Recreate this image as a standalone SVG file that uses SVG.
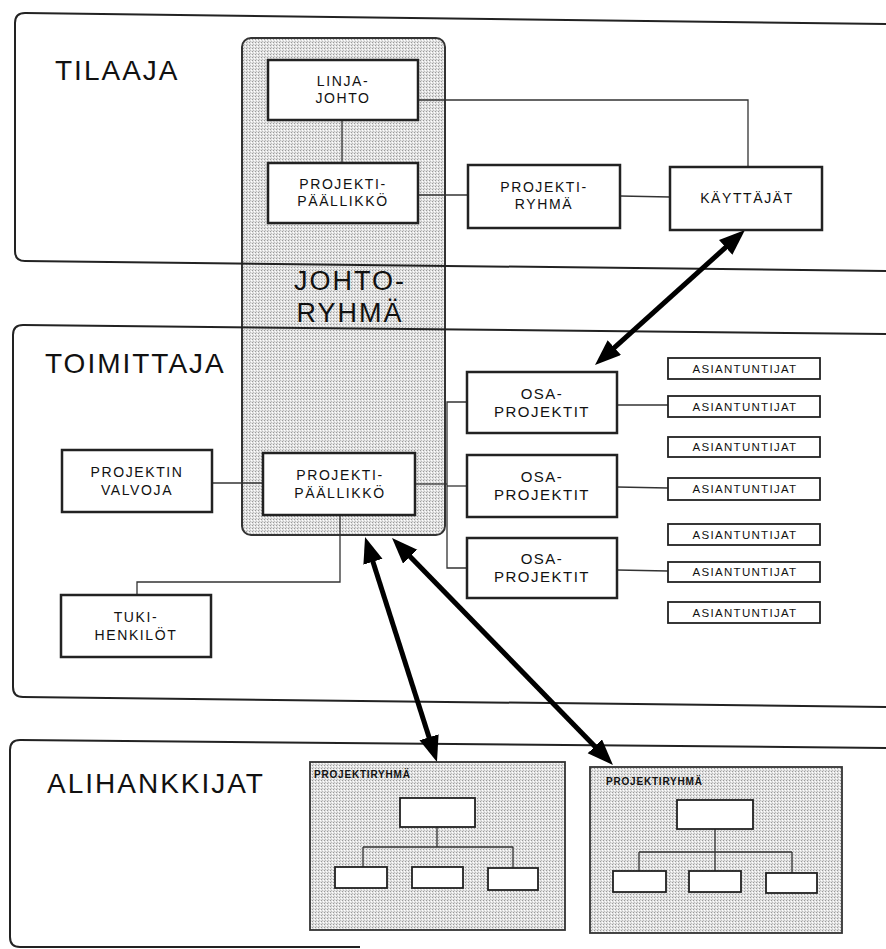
<svg xmlns="http://www.w3.org/2000/svg" width="886" height="949" viewBox="0 0 886 949">
<defs>
  <pattern id="stipple" width="3" height="3" patternUnits="userSpaceOnUse">
    <rect width="3" height="3" fill="#e2e2e2"/>
    <rect x="0" y="0" width="1" height="1" fill="#9a9a9a"/>
    <rect x="2" y="1" width="1" height="1" fill="#ffffff"/>
    <rect x="1" y="2" width="1" height="1" fill="#bdbdbd"/>
  </pattern>
  <marker id="head" markerUnits="userSpaceOnUse" markerWidth="28" markerHeight="22" refX="10" refY="10" orient="auto-start-reverse">
    <path d="M0,0 L26,10 L0,20 z" fill="#000"/>
  </marker>
  <style>
    .panel{fill:none;stroke:#222;stroke-width:2}
    .box{fill:#fff;stroke:#222;stroke-width:2.5}
    .sbox{fill:#fff;stroke:#222;stroke-width:1.8}
    .line{fill:none;stroke:#333;stroke-width:1.3}
    .arrow{fill:none;stroke:#000;stroke-width:5;marker-start:url(#head);marker-end:url(#head)}
    text{font-family:"Liberation Sans",Arial,sans-serif;fill:#111}
    .big{font-size:28px;letter-spacing:2px}
    .lbl{font-size:14px;letter-spacing:1.6px;text-anchor:middle}
    .osa{font-size:15px;letter-spacing:1.5px;text-anchor:middle}
    .asi{font-size:11.5px;letter-spacing:1.3px;text-anchor:middle}
    .pr{font-size:10px;font-weight:bold;letter-spacing:0.8px}
  </style>
</defs>

<!-- JOHTORYHMÄ shaded area -->
<g id="johtoryhma">
  <rect x="242" y="38" width="203" height="497" rx="9" fill="url(#stipple)" stroke="#333" stroke-width="2"/>
  <text x="350" y="290" font-size="27" letter-spacing="2" text-anchor="middle">JOHTO-</text>
  <text x="350" y="322" font-size="27" letter-spacing="2" text-anchor="middle">RYHMÄ</text>
</g>

<!-- Panels -->
<g id="tilaaja">
  <path class="panel" d="M886,24 L25,13 Q15,13 15,23 L15,251 Q15,261 25,261 L886,271"/>
  <text class="big" x="55" y="80">TILAAJA</text>
</g>
<g id="toimittaja">
  <path class="panel" d="M886,334 L23,325 Q13,325 13,335 L13,687 Q13,697 23,697 L886,707"/>
  <text class="big" x="45" y="373">TOIMITTAJA</text>
</g>
<g id="alihankkijat">
  <path class="panel" d="M886,748 L20,740 Q10,740 10,750 L10,937 Q10,947 20,947 L360,947"/>
  <text class="big" x="47" y="793">ALIHANKKIJAT</text>
</g>

<!-- Connectors -->
<g id="connectors">
  <path class="line" d="M342,120 L342,163"/>
  <path class="line" d="M418,100 L748,100 L748,167"/>
  <path class="line" d="M418,195 L468,195"/>
  <path class="line" d="M620,196 L670,197"/>
  <path class="line" d="M212,483 L263,483"/>
  <path class="line" d="M340,515 L340,582 L137,582 L137,595"/>
  <path class="line" d="M415,484 L447,484"/>
  <path class="line" d="M467,402 L447,402 L447,568 L467,568"/>
  <path class="line" d="M447,486 L467,486"/>
  <path class="line" d="M617,405 L668,405"/>
  <path class="line" d="M617,487 L668,488"/>
  <path class="line" d="M617,570 L668,571"/>
  <path class="arrow" d="M733.1,240.7 L606.9,354.3"/>
  <path class="arrow" d="M369.9,552.2 L432.1,746.8"/>
  <path class="arrow" d="M403.2,549.5 L601.8,753.5"/>
</g>

<!-- Nodes -->
<g id="linjajohto">
  <rect class="box" x="268" y="60" width="150" height="60"/>
  <text class="lbl" x="343" y="86">LINJA-</text>
  <text class="lbl" x="343" y="103">JOHTO</text>
</g>
<g id="pp-tilaaja">
  <rect class="box" x="268" y="163" width="150" height="60"/>
  <text class="lbl" x="343" y="189">PROJEKTI-</text>
  <text class="lbl" x="343" y="206">PÄÄLLIKKÖ</text>
</g>
<g id="projektiryhma">
  <rect class="box" x="468" y="165" width="152" height="63"/>
  <text class="lbl" x="544" y="192">PROJEKTI-</text>
  <text class="lbl" x="544" y="209">RYHMÄ</text>
</g>
<g id="kayttajat">
  <rect class="box" x="670" y="167" width="152" height="63"/>
  <text class="lbl" x="747" y="203">KÄYTTÄJÄT</text>
</g>
<g id="valvoja">
  <rect class="box" x="62" y="450" width="150" height="62"/>
  <text class="lbl" x="137" y="477">PROJEKTIN</text>
  <text class="lbl" x="137" y="495">VALVOJA</text>
</g>
<g id="pp-toimittaja">
  <rect class="box" x="263" y="453" width="152" height="62"/>
  <text class="lbl" x="340" y="480">PROJEKTI-</text>
  <text class="lbl" x="340" y="498">PÄÄLLIKKÖ</text>
</g>
<g id="tukihenkilot">
  <rect class="box" x="61" y="595" width="150" height="62"/>
  <text class="lbl" x="136" y="622">TUKI-</text>
  <text class="lbl" x="136" y="640">HENKILÖT</text>
</g>
<g id="osa1">
  <rect class="box" x="467" y="372" width="150" height="61"/>
  <text class="osa" x="542" y="399">OSA-</text>
  <text class="osa" x="542" y="417">PROJEKTIT</text>
</g>
<g id="osa2">
  <rect class="box" x="467" y="455" width="150" height="62"/>
  <text class="osa" x="542" y="482">OSA-</text>
  <text class="osa" x="542" y="500">PROJEKTIT</text>
</g>
<g id="osa3">
  <rect class="box" x="467" y="538" width="150" height="60"/>
  <text class="osa" x="542" y="564">OSA-</text>
  <text class="osa" x="542" y="582">PROJEKTIT</text>
</g>
<g id="asi1"><rect class="sbox" x="668" y="358" width="152" height="21"/><text class="asi" x="745" y="373">ASIANTUNTIJAT</text></g>
<g id="asi2"><rect class="sbox" x="668" y="396" width="152" height="21"/><text class="asi" x="745" y="411">ASIANTUNTIJAT</text></g>
<g id="asi3"><rect class="sbox" x="668" y="437" width="152" height="20"/><text class="asi" x="745" y="451">ASIANTUNTIJAT</text></g>
<g id="asi4"><rect class="sbox" x="668" y="478" width="152" height="22"/><text class="asi" x="745" y="493">ASIANTUNTIJAT</text></g>
<g id="asi5"><rect class="sbox" x="668" y="524" width="152" height="21"/><text class="asi" x="745" y="539">ASIANTUNTIJAT</text></g>
<g id="asi6"><rect class="sbox" x="668" y="562" width="152" height="20"/><text class="asi" x="745" y="576">ASIANTUNTIJAT</text></g>
<g id="asi7"><rect class="sbox" x="668" y="602" width="152" height="21"/><text class="asi" x="745" y="617">ASIANTUNTIJAT</text></g>

<!-- Subcontractor project groups -->
<g id="alihankkija1">
  <rect x="310" y="762" width="255" height="168" fill="url(#stipple)" stroke="#333" stroke-width="1.8"/>
  <text class="pr" x="314" y="778">PROJEKTIRYHMÄ</text>
  <path class="line" d="M437,827 L437,847 M363,847 L513,847 M363,847 L363,867 M513,847 L513,868"/>
  <rect class="sbox" x="400" y="798" width="75" height="29"/>
  <rect class="sbox" x="335" y="867" width="52" height="21"/>
  <rect class="sbox" x="412" y="867" width="51" height="21"/>
  <rect class="sbox" x="488" y="868" width="50" height="22"/>
</g>
<g id="alihankkija2">
  <rect x="590" y="767" width="252" height="166" fill="url(#stipple)" stroke="#333" stroke-width="1.8"/>
  <text class="pr" x="606" y="785">PROJEKTIRYHMÄ</text>
  <path class="line" d="M715,829 L715,871 M639,852 L792,852 M639,852 L639,871 M792,852 L792,873"/>
  <rect class="sbox" x="677" y="800" width="76" height="29"/>
  <rect class="sbox" x="613" y="871" width="53" height="21"/>
  <rect class="sbox" x="689" y="871" width="52" height="21"/>
  <rect class="sbox" x="766" y="873" width="51" height="20"/>
</g>
</svg>
